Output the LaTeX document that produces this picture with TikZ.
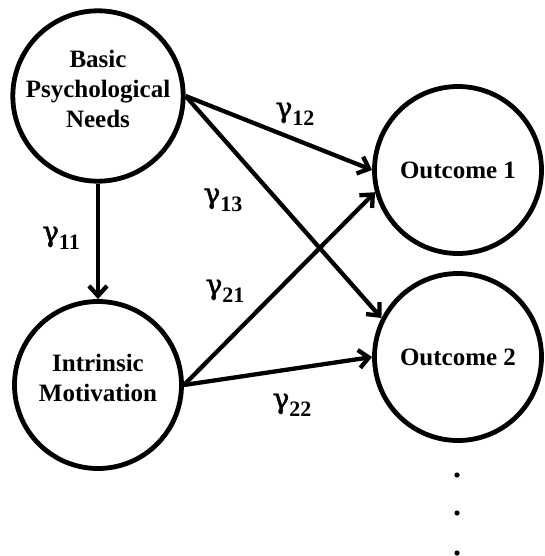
\documentclass[tikz,border=0pt]{standalone}
\usepackage{fontspec}
\setmainfont{Liberation Serif}
\newfontfamily\greekfont[FakeBold=1.6]{DejaVu Serif}
\usepackage{tikz}
\usetikzlibrary{arrows.meta,positioning,shapes}
\tikzset{%
	latent/.style  = {draw, circle, line width=4.8pt, minimum size=167pt, inner sep=0pt, align=center, font=\bfseries\fontsize{25}{30}\selectfont},
	twoline/.style = {text depth=14pt},
	link/.style    = {line width=4.3pt, -{Straight Barb[length=10pt,width=18pt]}},
	coef/.style    = {inner sep=0pt, font=\bfseries},
}
\newcommand{\gam}[1]{{\greekfont\mdseries\fontsize{28}{28}\selectfont γ}\raisebox{-8pt}{\fontsize{22}{22}\selectfont #1}}

\begin{document}
\begin{tikzpicture}[x=1pt,y=-1pt]
	\useasboundingbox (0,0) rectangle (545,556);
	
	\node[latent,twoline] (bpn) at (98,96) {Basic\\Psychological\\Needs};
	\node[latent,twoline] (im) at (98,385) {Intrinsic\\Motivation};
	\node[latent] (o1) at (458,170) {Outcome 1};
	\node[latent] (o2) at (458,357) {Outcome 2};
	
	\draw[link] (bpn) -- (im);
	\draw[link] (bpn.east) -- (o1.west);
	\draw[link] (bpn.east) -- (o2.153);
	\draw[link] (im.east) -- (o1.195);
	\draw[link] (im.east) -- (o2.west);
	
	\node[coef] (g11) at (61,238) {\gam{11}};
	\node[coef] (g12) at (295,114) {\gam{12}};
	\node[coef] (g13) at (223,200) {\gam{13}};
	\node[coef] (g21) at (225,291) {\gam{21}};
	\node[coef] (g22) at (292,405) {\gam{22}};
	
	% more outcomes
	\fill (457,475) circle (2.6);
	\fill (457,513) circle (2.6);
	\fill (457,553) circle (2.6);
\end{tikzpicture}
\end{document}
